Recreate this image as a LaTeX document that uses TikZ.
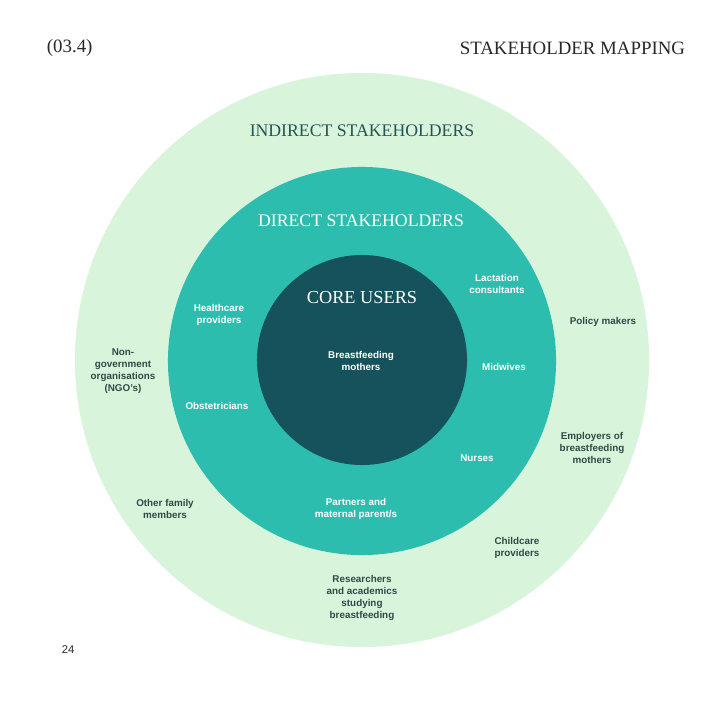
\documentclass[tikz,border=0pt]{standalone}
\usepackage{fontspec}
\setmainfont{Liberation Serif}
\setsansfont{Liberation Sans}
\usepackage{tikz}

\definecolor{ringOuter}{RGB}{216,245,219}
\definecolor{ringMid}{RGB}{44,189,175}
\definecolor{ringCore}{RGB}{22,82,92}
\definecolor{inkDark}{RGB}{36,84,84}
\definecolor{inkGrey}{RGB}{50,72,70}
\definecolor{inkPage}{RGB}{40,40,40}

\begin{document}
\begin{tikzpicture}[
            x=0.025cm, y=-0.025cm, % one unit is one pixel of the page
            ring/.style={circle, draw=none, inner sep=0pt}, % the three discs
            heading/.style={font=\fontsize{12.6}{14}\selectfont}, % serif titles
            label/.style={align=center, font=\sffamily\bfseries\fontsize{7}{8.5}\selectfont}, % small sans labels
            inner/.style={label, text=white}, % labels on the teal rings
            outer/.style={label, text=inkGrey} % labels on the light ring
            ]

        % page
        \useasboundingbox[fill=white] (0,0) rectangle (722,722);

        % header
        \node[heading, text=inkPage, font=\fontsize{13.4}{15}\selectfont, anchor=west] (secnum) at (42,48) {(03.4)};
        \node[heading, text=inkPage, font=\fontsize{13.4}{15}\selectfont, anchor=east] (sectitle) at (690,48) {STAKEHOLDER MAPPING};

        % the rings, from outside in
        \node[ring, fill=ringOuter, minimum size=14.35cm] (indirect) at (362,360) {};
        \node[ring, fill=ringMid, minimum size=9.7cm] (direct) at (362,361) {};
        \node[ring, fill=ringCore, minimum size=5.25cm] (core) at (362,360) {};

        % ring titles
        \node[heading, text=inkDark] (indirecttitle) at (362,131) {INDIRECT STAKEHOLDERS};
        \node[heading, text=white] (directtitle) at (361,221) {DIRECT STAKEHOLDERS};
        \node[heading, text=white, font=\fontsize{13}{15}\selectfont] (coretitle) at (362,298) {CORE USERS};

        % core users
        \node[inner] (mothers) at (361,361) {Breastfeeding\\mothers};

        % direct stakeholders
        \node[inner] (healthcare) at (219,315) {Healthcare\\providers};
        \node[inner] (obstetricians) at (217,406) {Obstetricians};
        \node[inner] (lactation) at (497,284) {Lactation\\consultants};
        \node[inner] (midwives) at (504,367) {Midwives};
        \node[inner] (nurses) at (477,458) {Nurses};
        \node[inner] (partners) at (356,509) {Partners and\\maternal parent/s};

        % indirect stakeholders
        \node[outer] (ngo) at (123,371) {Non-\\government\\organisations\\(NGO's)};
        \node[outer] (policy) at (603,322) {Policy makers};
        \node[outer] (employers) at (592,448) {Employers of\\breastfeeding\\mothers};
        \node[outer] (family) at (165,509) {Other family\\members};
        \node[outer] (childcare) at (517,548) {Childcare\\providers};
        \node[outer] (research) at (362,598) {Researchers\\and academics\\studying\\breastfeeding};

        % page number
        \node[label, text=inkPage, font=\sffamily\fontsize{8}{9}\selectfont, anchor=west] (pagenum) at (57,650) {24};

    \end{tikzpicture}
\end{document}
